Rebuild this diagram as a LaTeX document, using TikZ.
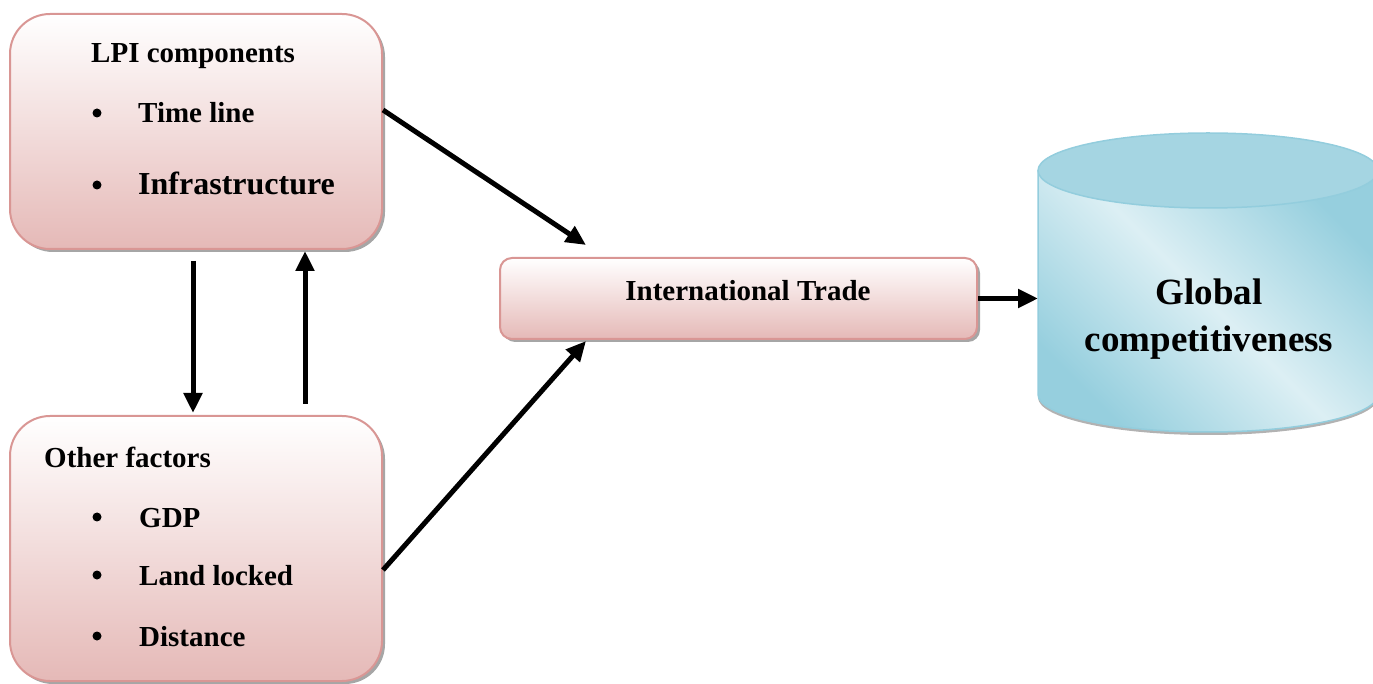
\documentclass[tikz,border=0pt]{standalone}
\usepackage{fontspec}
\setmainfont{Liberation Serif}
\usetikzlibrary{arrows.meta,shadows}

\begin{document}
\begin{tikzpicture}[x=1pt, y=1pt,
        box/.style = {draw=boxline, line width=2pt, top color=white, bottom color=boxfill,
            inner sep=0pt, drop shadow={shadow xshift=3pt, shadow yshift=-3pt, fill=black!35, opacity=1}},
        item/.style = {anchor=base west, inner sep=0pt, font=\fontsize{29}{35}\selectfont\bfseries},
        dot/.style = {circle, fill=black, inner sep=0pt, minimum size=9pt, yshift=10pt},
        flow/.style = {line width=5pt, -{Triangle[length=20pt,width=18pt]}}]
        \definecolor{boxline}{RGB}{217,150,148}
        \definecolor{boxfill}{RGB}{229,185,183}
        \definecolor{cyltop}{RGB}{165,213,226}
        \definecolor{cylline}{RGB}{147,205,221}
        \definecolor{cyllight}{RGB}{220,239,244}
        \definecolor{cyldark}{RGB}{150,207,222}
        \useasboundingbox (0,0) rectangle (1373,683);
        % boxes
        \node[box, rounded corners=40pt, minimum width=372pt, minimum height=235pt] (lpi) at (196,551.5) {};
        \node[box, rounded corners=40pt, minimum width=372pt, minimum height=265pt] (other) at (196,134.5) {};
        \node[box, rounded corners=12pt, minimum width=477pt, minimum height=81pt] (trade) at (738.5,384.5) {};
        % LPI components
        \node[item] (lpihead) at (91,620) {LPI components};
        \node[dot] (timedot) at (97,560) {};
        \node[item] (time) at (138,560) {Time line};
        \node[dot] (infradot) at (97,488) {};
        \node[item, font=\fontsize{32}{38}\selectfont\bfseries] (infra) at (138,488) {Infrastructure};
        % other factors
        \node[item] (otherhead) at (44,215) {Other factors};
        \foreach \y/\t/\n in {156/GDP/gdp, 98/Land locked/land, 37/Distance/dist} {
            \node[dot] (\n dot) at (97,\y) {};
            \node[item] (\n) at (139,\y) {\t};
        }
        \node[item, anchor=base] (tradetext) at (748,382) {International Trade};
        % cylinder
        \shade[left color=cyldark, right color=cyldark, middle color=cyllight, shading angle=-45,
            drop shadow={shadow xshift=0pt, shadow yshift=-3pt, fill=black!30, opacity=1}]
            (1038,512.5) -- (1038,288.5) arc[start angle=180, end angle=360, x radius=170pt, y radius=37.5pt]
            -- (1378,512.5) -- cycle;
        \draw[cylline, line width=1.5pt] (1038,512.5) -- (1038,288.5) arc[start angle=180, end angle=360, x radius=170pt, y radius=37.5pt]
            -- (1378,512.5);
        \filldraw[fill=cyltop, draw=cylline, line width=1.5pt] (1208,512.5) ellipse [x radius=170pt, y radius=37.5pt];
        \coordinate (cyl) at (1038,384.5);
        \node[item, anchor=base, font=\fontsize{37}{45}\selectfont\bfseries] (glob) at (1209,378) {Global};
        \node[item, anchor=base, font=\fontsize{37}{45}\selectfont\bfseries] (comp) at (1209,331) {competitiveness};
        % arrows
        \draw[flow] ([yshift=21.5pt]lpi.east) -- ([xshift=87pt,yshift=12pt]trade.north west);
        \draw[flow] ([yshift=-21.5pt]other.east) -- ([xshift=87pt,yshift=-1pt]trade.south west);
        \draw[flow] ([xshift=-3pt,yshift=-11pt]lpi.south) -- ([xshift=-3pt,yshift=2pt]other.north);
        \draw[flow] ([xshift=109pt,yshift=11pt]other.north) -- ([xshift=109pt,yshift=-1pt]lpi.south);
        \draw[flow] (trade.east) -- (cyl);
\end{tikzpicture}
\end{document}
